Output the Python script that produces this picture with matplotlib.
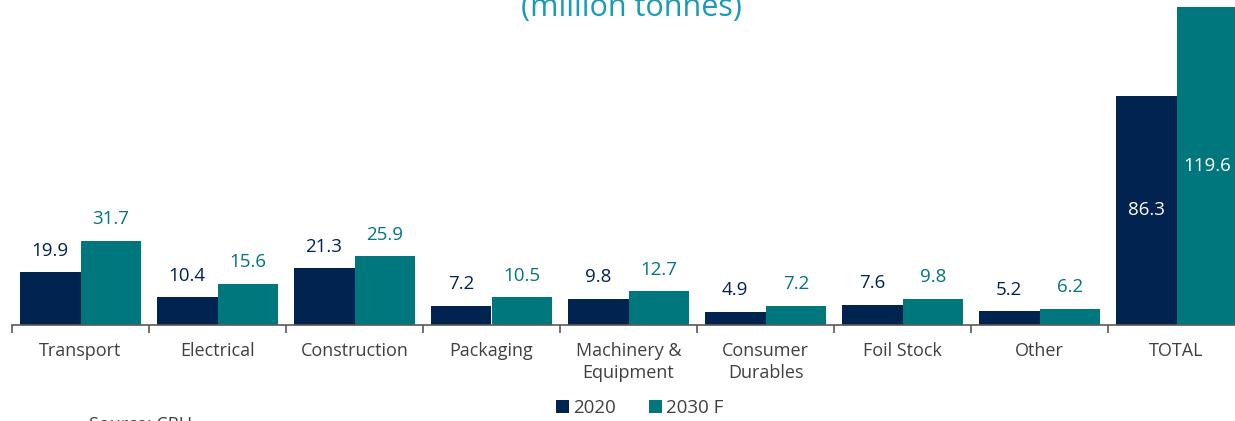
import matplotlib.pyplot as plt
import numpy as np

plt.rcParams['font.family'] = ['Open Sans', 'DejaVu Sans']

categories = ['Transport', 'Electrical', 'Construction', 'Packaging',
              'Machinery &\nEquipment', 'Consumer\nDurables', 'Foil Stock', 'Other', 'TOTAL']
vals_2020 = [19.9, 10.4, 21.3, 7.2, 9.8, 4.9, 7.6, 5.2, 86.3]
vals_2030 = [31.7, 15.6, 25.9, 10.5, 12.7, 7.2, 9.8, 6.2, 119.6]

navy = '#00234F'
teal = '#00767D'
grey = '#404040'

fig = plt.figure(figsize=(12.35, 4.21), dpi=100)
ax = fig.add_axes([12 / 1235, 96 / 421, 1233 / 1235, 325 / 421])

x = np.arange(len(categories))
w = 0.445
b1 = ax.bar(x - w / 2, vals_2020, w, color=navy, label='2020')
b2 = ax.bar(x + w / 2, vals_2030, w, color=teal, label='2030 F')

for i, (v1, v2) in enumerate(zip(vals_2020, vals_2030)):
    if categories[i] == 'TOTAL':
        ax.text(x[i] - w / 2, v1 / 2, f'{v1}', ha='center', va='center', color='white', fontsize=13.5)
        ax.text(x[i] + w / 2, v2 / 2, f'{v2}', ha='center', va='center', color='white', fontsize=13.5)
    else:
        ax.annotate(f'{v1}', (x[i] - w / 2, v1), xytext=(0, 9), textcoords='offset points',
                    ha='center', va='bottom', color=navy, fontsize=13.5)
        ax.annotate(f'{v2}', (x[i] + w / 2, v2), xytext=(0, 9), textcoords='offset points',
                    ha='center', va='bottom', color=teal, fontsize=13.5)

ax.set_xlim(-0.5, len(categories) - 0.5)
ax.set_ylim(0, 122.4)
ax.set_yticks([])
ax.set_xticks(x)
ax.set_xticklabels(categories, fontsize=13, color=grey, linespacing=1.3)
ax.tick_params(axis='x', which='major', length=0, pad=12)
ax.set_xticks(np.arange(len(categories)) - 0.5, minor=True)
ax.tick_params(axis='x', which='minor', length=6, width=1.2, color='#595959')
for s in ['top', 'right', 'left']:
    ax.spines[s].set_visible(False)
ax.spines['bottom'].set_color('#595959')
ax.spines['bottom'].set_linewidth(1.2)

# title sits partly above the top edge, as in the source image
fig.text(0.511, 0.962, '(million tonnes)', ha='center', va='baseline', color='#1A9BB5', fontsize=22)
fig.text(0.072, -0.03, 'Source: CRU', ha='left', va='bottom', color=grey, fontsize=13)

fig.legend(handles=[b1, b2], loc='center', bbox_to_anchor=(0.518, 0.03), ncol=2, frameon=False,
           fontsize=13.5, handlelength=0.7, handleheight=0.7, handletextpad=0.2, columnspacing=1.8,
           labelcolor=grey)

fig.savefig('out.png', dpi=100)
